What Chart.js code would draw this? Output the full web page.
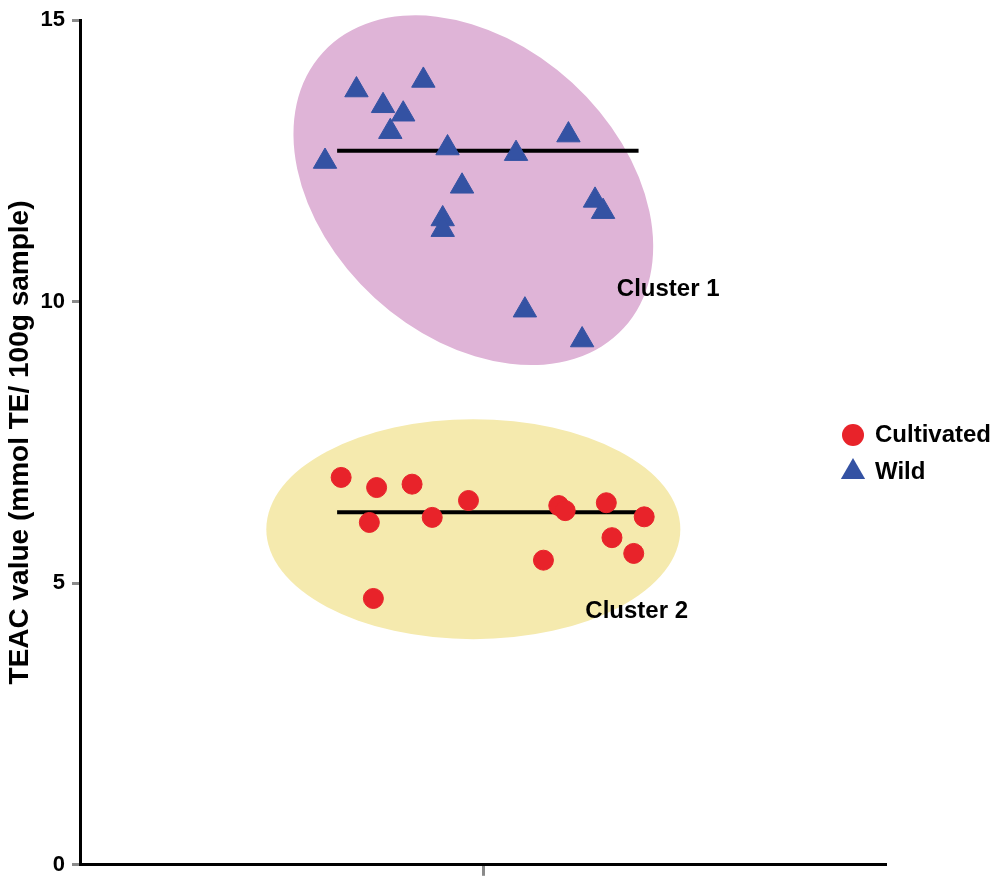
<!DOCTYPE html>
<html>
<head>
<meta charset="utf-8">
<title>TEAC value</title>
<script src="https://cdn.jsdelivr.net/npm/chart.js"></script>
<style>
  html, body { margin: 0; padding: 0; background: #fff; }
  #wrap { position: relative; width: 1000px; height: 885px; }
</style>
</head>
<body>
<div id="wrap"><canvas id="teacChart"></canvas></div>
<script>
// Values. x is only the horizontal jitter inside the one group (0..1)
const cultivatedX = [0.324, 0.368, 0.412, 0.359, 0.437, 0.482, 0.594, 0.602, 0.653, 0.700, 0.660, 0.687, 0.575, 0.364];
const cultivatedY = [6.88, 6.70, 6.76, 6.08, 6.17, 6.47, 6.38, 6.29, 6.43, 6.18, 5.81, 5.53, 5.41, 4.73];

const wildX = [0.343, 0.426, 0.376, 0.401, 0.385, 0.304, 0.456, 0.541, 0.606, 0.474, 0.639, 0.649, 0.450, 0.450, 0.552, 0.623];
const wildY = [13.76, 13.93, 13.48, 13.33, 13.02, 12.49, 12.73, 12.63, 12.96, 12.05, 11.80, 11.60, 11.47, 11.28, 9.85, 9.32];

// Horizontal bars through each group
const meanLineX = [0.319, 0.693];
const cultivatedMean = 6.26;
const wildMean = 12.68;

const yTicks = [0, 5, 10, 15];
const seriesNames = ['Cultivated', 'Wild'];
const clusterNames = ['Cluster 1', 'Cluster 2'];

const textFont = '"Liberation Sans", Arial, Helvetica, sans-serif';

function toPoints(xs, ys) {
    return xs.map((x, i) => ({x: x, y: ys[i]}));
}

// Shaded clusters: centre in data units, half-axes in pixels
const clusterShapes = [
    {cx: 0.488, cy: 11.98, rx: 204, ry: 146, angle: 42.5, color: '#dfb4d7', labelX: 0.666, labelY: 10.11},
    {cx: 0.488, cy: 5.96, rx: 207, ry: 110, angle: 0, color: '#f5eaae', labelX: 0.627, labelY: 4.39}
];

function drawMarker(ctx, style, x, y, r, color) {
    ctx.fillStyle = color;
    ctx.beginPath();
    if (style === 'triangle') {
        ctx.moveTo(x, y - r);
        ctx.lineTo(x + r * 0.866, y + r * 0.5);
        ctx.lineTo(x - r * 0.866, y + r * 0.5);
        ctx.closePath();
    } else {
        ctx.arc(x, y, r, 0, Math.PI * 2);
    }
    ctx.fill();
}

const clusterPlugin = {
    id: 'clusters',
    beforeDatasetsDraw(chart) {
        const {ctx, scales: {x, y}} = chart;
        ctx.save();
        clusterShapes.forEach(s => {
            ctx.fillStyle = s.color;
            ctx.beginPath();
            ctx.ellipse(x.getPixelForValue(s.cx), y.getPixelForValue(s.cy), s.rx, s.ry,
                s.angle * Math.PI / 180, 0, Math.PI * 2);
            ctx.fill();
        });
        ctx.restore();
    },
    afterDatasetsDraw(chart) {
        const {ctx, chartArea, scales: {x, y}} = chart;
        ctx.save();
        ctx.font = 'bold 24px ' + textFont;
        ctx.fillStyle = '#000';
        ctx.textBaseline = 'alphabetic';
        ctx.textAlign = 'left';
        clusterShapes.forEach((s, i) => {
            ctx.fillText(clusterNames[i], x.getPixelForValue(s.labelX), y.getPixelForValue(s.labelY));
        });

        // Legend, sitting to the right of the clusters
        const lx = chartArea.right - 33;
        const rows = [
            {name: seriesNames[0], ds: chart.data.datasets[0], cy: 435, r: 11},
            {name: seriesNames[1], ds: chart.data.datasets[1], cy: 472, r: 14}
        ];
        rows.forEach(row => {
            drawMarker(ctx, row.ds.pointStyle, lx, row.cy, row.r, row.ds.backgroundColor);
            ctx.fillStyle = '#000';
            ctx.fillText(row.name, lx + 22, row.cy + 7);
        });
        ctx.restore();
    }
};

const tickGrey = '#8a8a8a';

new Chart(document.getElementById('teacChart').getContext('2d'), {
    type: 'scatter',
    data: {
        datasets: [
            {
                label: seriesNames[0],
                data: toPoints(cultivatedX, cultivatedY),
                pointStyle: 'circle',
                pointRadius: 10,
                backgroundColor: '#e8232a',
                borderColor: '#e8232a',
                borderWidth: 1,
                order: 1
            },
            {
                label: seriesNames[1],
                data: toPoints(wildX, wildY),
                pointStyle: 'triangle',
                pointRadius: 13.5,
                backgroundColor: '#3452a3',
                borderColor: '#3452a3',
                borderWidth: 1,
                order: 1
            },
            {
                type: 'line',
                label: 'Cultivated mean',
                data: meanLineX.map(v => ({x: v, y: cultivatedMean})),
                borderColor: '#000',
                borderWidth: 4,
                pointRadius: 0,
                order: 2
            },
            {
                type: 'line',
                label: 'Wild mean',
                data: meanLineX.map(v => ({x: v, y: wildMean})),
                borderColor: '#000',
                borderWidth: 4,
                pointRadius: 0,
                order: 2
            }
        ]
    },
    options: {
        responsive: true,
        maintainAspectRatio: false,
        animation: false,
        layout: {padding: {left: 0, top: 11, right: 114, bottom: 0}},
        plugins: {
            legend: {display: false},
            tooltip: {enabled: false}
        },
        scales: {
            x: {
                type: 'linear',
                min: 0,
                max: 1,
                afterBuildTicks: axis => { axis.ticks = [{value: 0.5}]; },
                ticks: {display: false},
                grid: {drawOnChartArea: false, tickLength: 11, tickColor: tickGrey, tickWidth: 3},
                border: {color: '#000', width: 3},
                afterFit: s => { s.height = 17; }
            },
            y: {
                min: 0,
                max: 15,
                afterBuildTicks: axis => { axis.ticks = yTicks.map(v => ({value: v})); },
                ticks: {
                    color: '#000',
                    padding: 7,
                    font: {family: textFont, size: 22, weight: 'bold'}
                },
                grid: {drawOnChartArea: false, tickLength: 8, tickColor: tickGrey, tickWidth: 3},
                border: {color: '#000', width: 3},
                title: {
                    display: true,
                    text: 'TEAC value (mmol TE/ 100g sample)',
                    color: '#000',
                    padding: {top: 3, bottom: 0},
                    font: {family: textFont, size: 28, weight: 'bold'}
                },
                afterFit: s => { s.width = 80; }
            }
        }
    },
    plugins: [clusterPlugin]
});
</script>
</body>
</html>
